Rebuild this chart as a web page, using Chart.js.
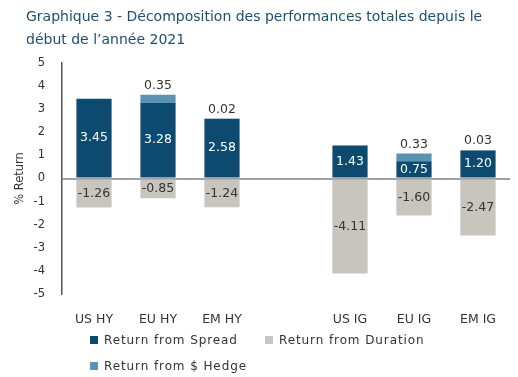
<!DOCTYPE html>
<html>
<head>
<meta charset="utf-8">
<script src="https://cdn.jsdelivr.net/npm/chart.js@4.4.0/dist/chart.umd.min.js"></script>
<style>
  html, body { margin: 0; padding: 0; background: #fff; }
  #wrap { position: relative; width: 518px; height: 377px; font-family: "DejaVu Sans", sans-serif; }
  #titre { position: absolute; left: 26px; top: 5px; font-size: 14px; line-height: 23px; color: #1d4f73; }
  .leg { position: absolute; font-size: 12px; letter-spacing: 0.9px; color: #333; white-space: nowrap; }
  .leg span { display: inline-block; width: 8px; height: 8px; margin-right: 6px; vertical-align: 0px; }
</style>
</head>
<body>
<div id="wrap">
  <canvas id="chart" width="518" height="377"></canvas>
  <div id="titre">Graphique 3 - Décomposition des performances totales depuis le<br>début de l’année 2021</div>
  <div class="leg" style="left:90px; top:333px;"><span style="background:#0d4a70"></span>Return from Spread</div>
  <div class="leg" style="left:265px; top:333px;"><span style="background:#c8c5bf"></span>Return from Duration</div>
  <div class="leg" style="left:90px; top:359px;"><span style="background:#5b93b3"></span>Return from $ Hedge</div>
</div>
<script>
// donnees
const categories = ['US HY', 'EU HY', 'EM HY', '', 'US IG', 'EU IG', 'EM IG'];
const spread = [3.45, 3.28, 2.58, null, 1.43, 0.75, 1.20];
const duration = [-1.26, -0.85, -1.24, null, -4.11, -1.60, -2.47];
const hedge = [null, 0.35, 0.02, null, null, 0.33, 0.03];
const yTicks = [-5, -4, -3, -2, -1, 0, 1, 2, 3, 4, 5];

// etiquettes de valeurs sur les barres
const etiquettes = {
    id: 'etiquettes',
    afterDatasetsDraw(chart) {
        const ctx = chart.ctx;
        ctx.save();
        ctx.font = '12.5px "DejaVu Sans", sans-serif';
        ctx.textAlign = 'center';
        ctx.textBaseline = 'middle';
        chart.data.datasets.forEach((ds, i) => {
            const meta = chart.getDatasetMeta(i);
            meta.data.forEach((bar, j) => {
                const v = ds.data[j];
                if (v === null) return;
                let y = (bar.y + bar.base) / 2;
                if (i === 0) ctx.fillStyle = '#ffffff';
                else ctx.fillStyle = '#333333';
                if (i === 2) y = Math.min(bar.y, bar.base) - 9;
                ctx.fillText(v.toFixed(2), bar.x, y);
            });
        });
        ctx.restore();
    }
};

new Chart(document.getElementById('chart'), {
    type: 'bar',
    data: {
        labels: categories,
        datasets: [{
            label: 'Return from Spread',
            data: spread,
            backgroundColor: '#0d4a70',
            borderWidth: 0
        }, {
            label: 'Return from Duration',
            data: duration,
            backgroundColor: '#c8c5bf',
            borderWidth: 0
        }, {
            label: 'Return from $ Hedge',
            data: hedge,
            backgroundColor: '#5b93b3',
            borderWidth: 0
        }]
    },
    options: {
        responsive: false,
        animation: false,
        barPercentage: 0.55,
        categoryPercentage: 1,
        layout: {
            padding: { top: 63, right: 8, bottom: 53, left: 0 }
        },
        plugins: {
            legend: { display: false },
            tooltip: { enabled: false }
        },
        scales: {
            x: {
                stacked: true,
                grid: { display: false },
                border: { display: false },
                ticks: {
                    color: '#333',
                    font: { family: 'DejaVu Sans', size: 12.5 },
                    padding: 10
                },
                afterFit: s => { s.height = 30; }
            },
            y: {
                stacked: true,
                min: -5,
                max: 5,
                afterBuildTicks: s => { s.ticks = yTicks.map(v => ({ value: v })); },
                ticks: {
                    color: '#333',
                    font: { family: 'DejaVu Sans', size: 11.5 },
                    padding: 17
                },
                grid: {
                    drawTicks: false,
                    color: c => c.tick && c.tick.value === 0 ? '#a0a0a0' : 'rgba(0,0,0,0)',
                    lineWidth: 2
                },
                border: { display: true, color: '#555', width: 1.5 },
                title: {
                    display: true,
                    text: '% Return',
                    color: '#333',
                    font: { family: 'DejaVu Sans', size: 11.5 },
                    padding: { top: 13, bottom: 0 }
                },
                afterFit: s => { s.width = 62; }
            }
        }
    },
    plugins: [etiquettes]
});
</script>
</body>
</html>
